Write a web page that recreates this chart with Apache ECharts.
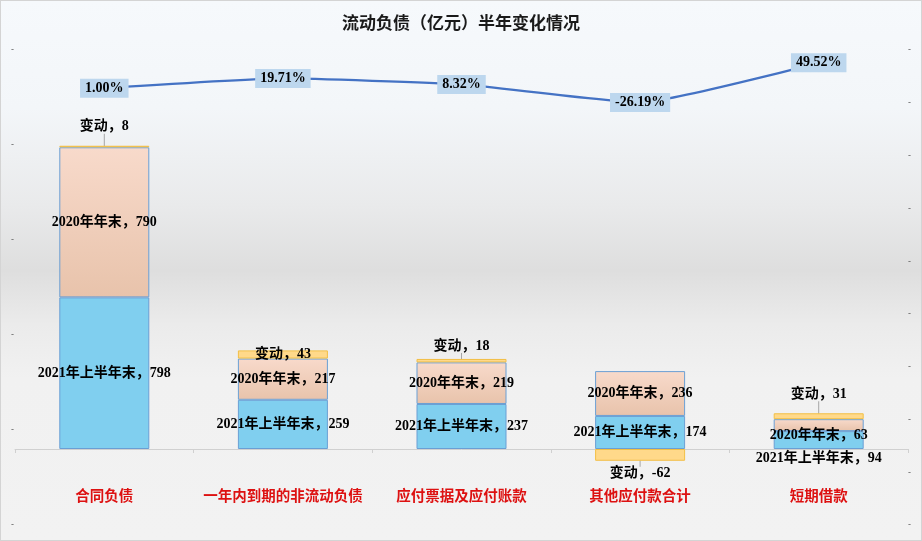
<!DOCTYPE html>
<html>
<head>
<meta charset="utf-8">
<script src="https://cdn.jsdelivr.net/npm/echarts@6/dist/echarts.min.js"></script>
<style>
html,body{margin:0;padding:0;}
#wrap{position:relative;width:922px;height:541px;}
#chart{position:absolute;left:0;top:0;width:922px;height:541px;
 background:linear-gradient(to bottom,#f6f9fc 0%,#f3f6f9 20%,#e9eaeb 38%,#dedede 50%,#ebebeb 60%,#f1f1f1 70%,#f2f2f2 100%);}
#frame{position:absolute;left:0;top:0;width:920px;height:539px;border:1px solid #d4d4d4;pointer-events:none;}
</style>
</head>
<body>
<div id="wrap"><div id="chart"></div><div id="frame"></div></div>
<script>
var categories = ['合同负债', '一年内到期的非流动负债', '应付票据及应付账款', '其他应付款合计', '短期借款'];
var seriesNames = ['2021年上半年末', '2020年年末', '变动'];
var values2021H1 = [798, 259, 237, 174, 94];
var values2020End = [790, 217, 219, 236, 63];
var valuesChange = [8, 43, 18, -62, 31];
var changePct = [1.00, 19.71, 8.32, -26.19, 49.52];

var labelFont = {fontFamily: "'Liberation Serif','Noto Sans CJK SC',serif", fontWeight: 'bold', fontSize: 14, color: '#000'};

function withLabels(vals, overrides) {
  return vals.map(function (v, i) {
    var item = {value: v};
    if (overrides[i]) item.label = overrides[i];
    return item;
  });
}

var blueOverrides = {4: {position: 'bottom', distance: 2}};
var peachOverrides = {4: {position: 'inside', offset: [0, 10]}};
var yellowOverrides = {
  0: {position: 'top', distance: 2},
  1: {position: 'inside'},
  2: {position: 'top', distance: 6},
  3: {position: 'bottom', distance: 6},
  4: {position: 'top', distance: 2}
};

var chart = echarts.init(document.getElementById('chart'), null, {renderer: 'canvas'});

var option = {
  backgroundColor: 'transparent',
  animation: false,
  title: {
    text: '流动负债（亿元）半年变化情况',
    left: 'center',
    top: 9,
    textStyle: {fontFamily: "'Noto Sans CJK SC',sans-serif", fontWeight: 'bold', fontSize: 17, color: '#1a1a1a'}
  },
  grid: {left: 15, right: 14, top: 50, bottom: 16, containLabel: false, outerBoundsMode: 'none'},
  xAxis: {
    type: 'category',
    data: categories,
    axisLine: {onZero: true, onZeroAxisIndex: 0, lineStyle: {color: '#d0d0d0', width: 1}},
    axisTick: {show: true, length: 4, lineStyle: {color: '#d0d0d0'}},
    axisLabel: {interval: 0, margin: -37, color: '#dd1111', fontWeight: 'bold', fontSize: 14.5, fontFamily: "'Noto Sans CJK SC',sans-serif"},
    splitLine: {show: false}
  },
  yAxis: [
    {
      type: 'value', position: 'left', min: -400, max: 2100, interval: 500,
      axisLine: {show: false}, axisTick: {show: false}, splitLine: {show: false},
      axisLabel: {formatter: function () { return '-'; }, color: '#595959', fontSize: 9, margin: 1}
    },
    {
      type: 'value', position: 'right', min: -832, max: 74, show: false,
      splitLine: {show: false}
    },
    {
      type: 'value', position: 'right', min: 0, max: 9, interval: 1,
      axisLine: {show: false}, axisTick: {show: false}, splitLine: {show: false},
      axisLabel: {formatter: function () { return '-'; }, color: '#595959', fontSize: 9, margin: 0}
    }
  ],
  series: [
    {
      name: seriesNames[0], type: 'bar', stack: 'total', barWidth: 90, yAxisIndex: 0,
      itemStyle: {color: '#80cfef', borderColor: '#6a9fd4', borderWidth: 1},
      label: Object.assign({show: true, position: 'inside', formatter: '{a}，{c}'}, labelFont),
      data: withLabels(values2021H1, blueOverrides)
    },
    {
      name: seriesNames[1], type: 'bar', stack: 'total', barWidth: 90, yAxisIndex: 0,
      itemStyle: {
        color: new echarts.graphic.LinearGradient(0, 0, 0, 1, [{offset: 0, color: '#f8dacb'}, {offset: 1, color: '#e8c3ab'}]),
        borderColor: '#6a9fd4', borderWidth: 1
      },
      label: Object.assign({show: true, position: 'inside', formatter: '{a}，{c}'}, labelFont),
      data: withLabels(values2020End, peachOverrides)
    },
    {
      name: seriesNames[2], type: 'bar', stack: 'total', barWidth: 90, yAxisIndex: 0,
      itemStyle: {color: '#ffd98a', borderColor: '#f2bf45', borderWidth: 1},
      label: Object.assign({show: true, position: 'inside', formatter: '{a}，{c}'}, labelFont),
      labelLayout: function (p) {
        if (p.dataIndex === 0) return {dy: -10};
        if (p.dataIndex === 4) return {dy: -10};
        return {};
      },
      labelLine: {show: true, lineStyle: {color: '#a6a6a6', width: 1}},
      data: withLabels(valuesChange, yellowOverrides)
    },
    {
      name: '变动率', type: 'line', yAxisIndex: 1, smooth: 0.15,
      symbol: 'circle', symbolSize: 1, showSymbol: true,
      itemStyle: {color: 'rgba(68,114,196,0)', borderWidth: 0},
      lineStyle: {color: '#4472c4', width: 2.25},
      label: Object.assign({
        show: true, position: 'inside',
        formatter: function (p) { return p.value.toFixed(2) + '%'; },
        backgroundColor: '#bdd7ee', padding: [3, 5, 2, 5]
      }, labelFont),
      z: 5,
      data: changePct
    }
  ]
};
chart.setOption(option);
</script>
</body>
</html>
